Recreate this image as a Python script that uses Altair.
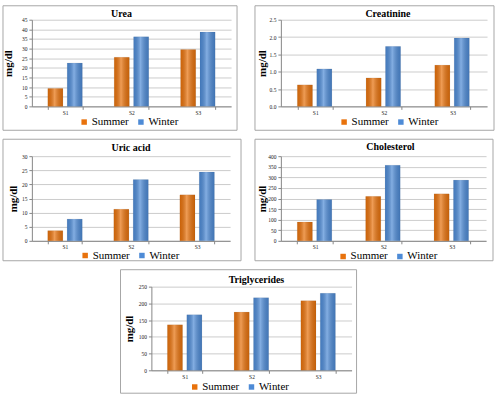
import altair as alt
import pandas as pd

categories = ["S1", "S2", "S3"]
seasons = ["Summer", "Winter"]

urea_summer = [9.3, 25.5, 29.5]
urea_winter = [22.5, 36.1, 38.6]
creat_summer = [0.62, 0.82, 1.19]
creat_winter = [1.08, 1.73, 1.97]
uric_summer = [3.6, 11.2, 16.3]
uric_winter = [7.7, 21.7, 24.4]
chol_summer = [89, 210, 222]
chol_winter = [195, 357, 287]
trig_summer = [136, 174, 208]
trig_winter = [166, 217, 230]

urea_ticks = [0, 5, 10, 15, 20, 25, 30, 35, 40, 45]
creat_ticks = [0, 0.5, 1, 1.5, 2, 2.5]
uric_ticks = [0, 5, 10, 15, 20, 25, 30]
chol_ticks = [0, 50, 100, 150, 200, 250, 300, 350, 400]
trig_ticks = [0, 50, 100, 150, 200, 250]

SERIF = "Liberation Serif"
ORANGE = "#E8720C"
BLUE = "#4E8BD6"
AXIS_GRAY = "#868686"

shade = alt.Gradient(
    gradient="linear", x1=0, x2=1, y1=0, y2=0,
    stops=[
        alt.GradientStop(color="rgba(0,0,0,0.10)", offset=0),
        alt.GradientStop(color="rgba(255,255,255,0.30)", offset=0.45),
        alt.GradientStop(color="rgba(0,0,0,0.14)", offset=1),
    ],
)


def panel(title, summer, winter, ticks, w, h, box, legend_xy, title_offset, title_dx, ytitle_x):
    rows = []
    for c, s, v in zip(categories, summer, winter):
        rows.append({"cat": c, "Season": "Summer", "value": s})
        rows.append({"cat": c, "Season": "Winter", "value": v})
    df = pd.DataFrame(rows)

    x = alt.X("cat:N", sort=categories,
              scale=alt.Scale(paddingInner=0.48, paddingOuter=0.24),
              axis=alt.Axis(title=None, labelAngle=0, labelFont=SERIF, labelFontSize=5.5,
                            labelColor="#222", labelPadding=1, domainColor=AXIS_GRAY,
                            tickColor=AXIS_GRAY, tickSize=3, tickBand="extent", grid=False))
    xo = alt.XOffset("Season:N", sort=seasons, scale=alt.Scale(paddingInner=0.22, paddingOuter=0))
    y = alt.Y("value:Q", scale=alt.Scale(domain=[ticks[0], ticks[-1]], nice=False),
              axis=alt.Axis(values=ticks, title="mg/dl", titleFont=SERIF, titleFontSize=11,
                            titleFontWeight="bold", titleColor="#000", titleX=ytitle_x, titleY=h / 2,
                            titleBaseline="middle", titleAlign="center", titleAngle=270,
                            labelFont=SERIF, labelFontSize=5.5, labelColor="#222", labelPadding=2,
                            domainColor=AXIS_GRAY, tickColor=AXIS_GRAY, tickSize=3,
                            grid=True, gridColor="#bfbfbf", gridWidth=0.8))

    bars = alt.Chart(df).mark_bar(stroke="rgba(0,0,0,0.12)", strokeWidth=0.5).encode(
        x=x, xOffset=xo, y=y,
        color=alt.Color("Season:N", sort=seasons,
                        scale=alt.Scale(domain=seasons, range=[ORANGE, BLUE]),
                        legend=alt.Legend(orient="none", legendX=legend_xy[0], legendY=legend_xy[1],
                                          direction="horizontal", title=None, symbolType="square",
                                          symbolSize=30, symbolStrokeWidth=0, labelFont=SERIF,
                                          labelFontSize=11, labelColor="#000", labelOffset=2,
                                          columnPadding=6, padding=0)),
    )
    gloss = alt.Chart(df).mark_bar(color=shade).encode(x=x, xOffset=xo, y=y)

    one = pd.DataFrame({"a": [0]})
    frame = alt.Chart(one).mark_rect(
        filled=False, stroke="#a6a6a6", strokeWidth=1
    ).encode(x=alt.value(box[0]), x2=alt.value(box[1]), y=alt.value(box[2]), y2=alt.value(box[3]))

    head = alt.Chart(one).mark_text(
        font=SERIF, fontSize=10, fontWeight="bold", color="#000",
        align="center", baseline="alphabetic"
    ).encode(text=alt.value(title), x=alt.value(w / 2 + title_dx), y=alt.value(-title_offset))

    return alt.layer(frame, bars, gloss, head).properties(width=w, height=h)


urea = panel("Urea", urea_summer, urea_winter, urea_ticks, 200, 87,
             (-29, 206, -14, 111), (47, 97), 3, -10, -23)
creat = panel("Creatinine", creat_summer, creat_winter, creat_ticks, 207, 87,
              (-26, 214, -14, 111), (58, 97), 3, 4, -18)
uric = panel("Uric acid", uric_summer, uric_winter, uric_ticks, 199, 85,
             (-29, 210, -17, 105), (48, 94), 5, 0, -18)
chol = panel("Cholesterol", chol_summer, chol_winter, chol_ticks, 206, 85,
             (-26, 213, -17, 105), (57, 95), 6, 7, -18)
trig = panel("Triglycerides", trig_summer, trig_winter, trig_ticks, 201, 84,
             (-31, 206, -17, 107), (38, 95), 4, 5, -22)

spacer = alt.Chart(pd.DataFrame({"a": [0]})).mark_point(opacity=0).encode(
    x=alt.value(0), y=alt.value(0)
).properties(width=88, height=10)

row1 = alt.hconcat(urea, creat, spacing=16).resolve_scale(color="independent")
row2 = alt.hconcat(uric, chol, spacing=12).resolve_scale(color="independent")
row3 = alt.hconcat(spacer, trig, spacing=0).resolve_scale(color="independent")

chart = alt.vconcat(row1, row2, row3, spacing=7).resolve_scale(color="independent").properties(
    padding={"left": 2, "top": 4, "right": 0, "bottom": 0}
).configure(background="white", view=alt.ViewConfig(stroke=None))

chart.save("out.html", embed_options={"renderer": "svg", "actions": False})
